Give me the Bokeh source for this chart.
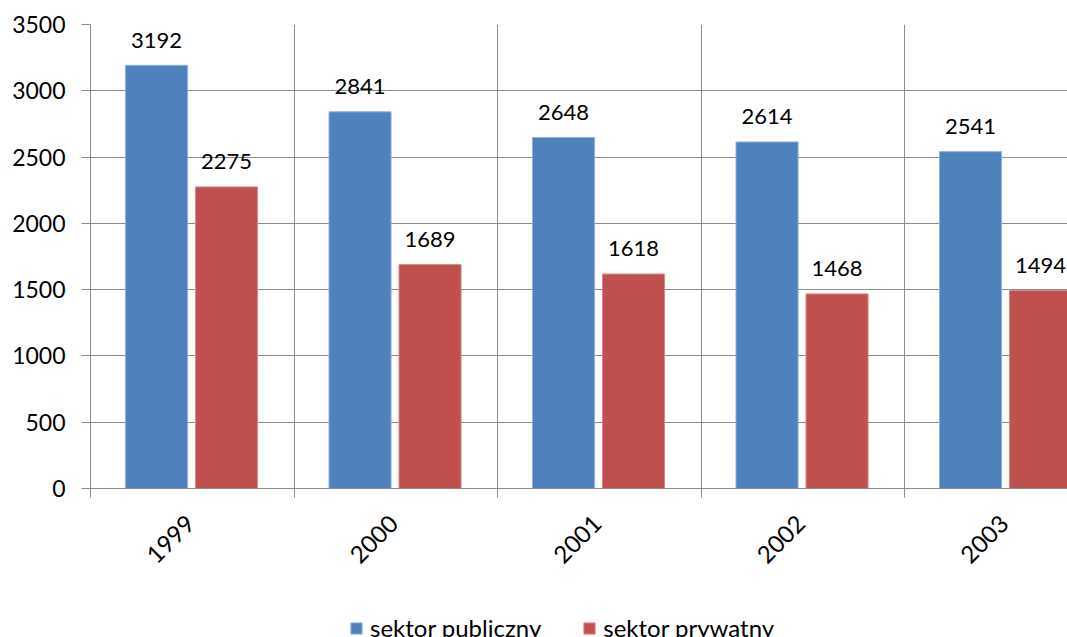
import math
from bokeh.plotting import figure
from bokeh.layouts import column
from bokeh.models import Range1d, FixedTicker, Legend, LegendItem, ColumnDataSource
from bokeh.transform import dodge
from bokeh.core.properties import value
from bokeh.embed import file_html
from bokeh.resources import INLINE

# ---- data ----
years = ["1999", "2000", "2001", "2002", "2003"]
publiczny = [3192, 2841, 2648, 2614, 2541]
prywatny = [2275, 1689, 1618, 1468, 1494]
y_ticks = [0, 500, 1000, 1500, 2000, 2500, 3000, 3500]
series_names = ["sektor publiczny", "sektor prywatny"]

FONT = "Lato"
BLUE = "#4F81BD"
RED = "#C0504D"
BLUE_EDGE = "#8FB0D8"
RED_EDGE = "#D98C8A"
GRID = "#8C8C8C"

centers = [i + 0.5 for i in range(len(years))]
label_ticks = [c - 0.01 for c in centers]
bounds = list(range(len(years) + 1))

src = ColumnDataSource(dict(
    x=centers,
    pub=publiczny,
    pry=prywatny,
    pub_lbl=[str(v) for v in publiczny],
    pry_lbl=[str(v) for v in prywatny],
))

W = 1067
H1, H2 = 600, 37
p = figure(width=W, height=H1, output_backend="svg", toolbar_location=None,
           x_range=Range1d(0, (W - 90) / 203.5), y_range=Range1d(0, 3500),
           min_border_left=90, min_border_right=0, min_border_top=24,
           min_border_bottom=H1 - 488)
p.outline_line_color = None
p.background_fill_color = "white"
p.border_fill_color = "white"

bw = 0.305
off_pub = -0.1755
off_pry = 0.1685

p.vbar(x=dodge("x", off_pub, range=p.x_range), top="pub", width=bw, bottom=0,
       source=src, fill_color=BLUE, line_color=BLUE_EDGE, line_width=1)
p.vbar(x=dodge("x", off_pry, range=p.x_range), top="pry", width=bw, bottom=0,
       source=src, fill_color=RED, line_color=RED_EDGE, line_width=1)

for col, lbl, off in (("pub", "pub_lbl", off_pub), ("pry", "pry_lbl", off_pry)):
    p.text(x=dodge("x", off, range=p.x_range), y=col, text=lbl, source=src,
           text_align="center", text_baseline="middle", y_offset=-25,
           text_font=value(FONT), text_font_size="22px", text_color="#000000")

# grids
p.xgrid.ticker = FixedTicker(ticks=bounds)
p.ygrid.ticker = FixedTicker(ticks=y_ticks)
for g in (p.xgrid, p.ygrid):
    g.grid_line_color = GRID
    g.grid_line_width = 1

# x axis
xa = p.xaxis[0]
xa.ticker = FixedTicker(ticks=label_ticks, minor_ticks=bounds)
xa.major_label_overrides = {c: y for c, y in zip(label_ticks, years)}
xa.major_tick_out = 0
xa.major_tick_in = 0
xa.minor_tick_out = 9
xa.minor_tick_in = 0
xa.minor_tick_line_color = GRID
xa.axis_line_color = GRID
xa.major_label_orientation = math.pi / 4
xa.major_label_standoff = 22
xa.major_label_text_font = FONT
xa.major_label_text_font_size = "24px"
xa.major_label_text_color = "#000000"

# y axis
ya = p.yaxis[0]
ya.ticker = FixedTicker(ticks=y_ticks)
ya.major_tick_out = 9
ya.major_tick_in = 0
ya.minor_tick_out = 0
ya.major_tick_line_color = GRID
ya.axis_line_color = GRID
ya.major_label_standoff = 16
ya.major_label_text_font = FONT
ya.major_label_text_font_size = "23px"
ya.major_label_text_color = "#000000"

# legend strip below the chart; its ranges keep the swatch renderers' data out of view
p2 = figure(width=W, height=H2, output_backend="svg", toolbar_location=None,
            x_range=Range1d(-20, -19), y_range=Range1d(-20, -19),
            x_axis_type=None, y_axis_type=None,
            min_border_left=0, min_border_right=0, min_border_top=0, min_border_bottom=0)
p2.outline_line_color = None
p2.grid.visible = False
d1 = p2.vbar(x="x", top="pub", bottom="pub", width=0.1, source=src,
             fill_color=BLUE, line_color=BLUE_EDGE)
d2 = p2.vbar(x="x", top="pry", bottom="pry", width=0.1, source=src,
             fill_color=RED, line_color=RED_EDGE)
legend = Legend(items=[LegendItem(label=series_names[0], renderers=[d1]),
                       LegendItem(label=series_names[1], renderers=[d2])],
                orientation="horizontal", location=(259, -5),
                border_line_color=None, background_fill_alpha=0,
                padding=0, margin=0, spacing=41, glyph_width=14, glyph_height=14,
                label_standoff=7, label_text_font=FONT, label_text_font_size="24px",
                label_text_color="#000000")
p2.add_layout(legend)

layout = column(p, p2, spacing=0)
open("out.html", "w").write(file_html(layout, INLINE))
